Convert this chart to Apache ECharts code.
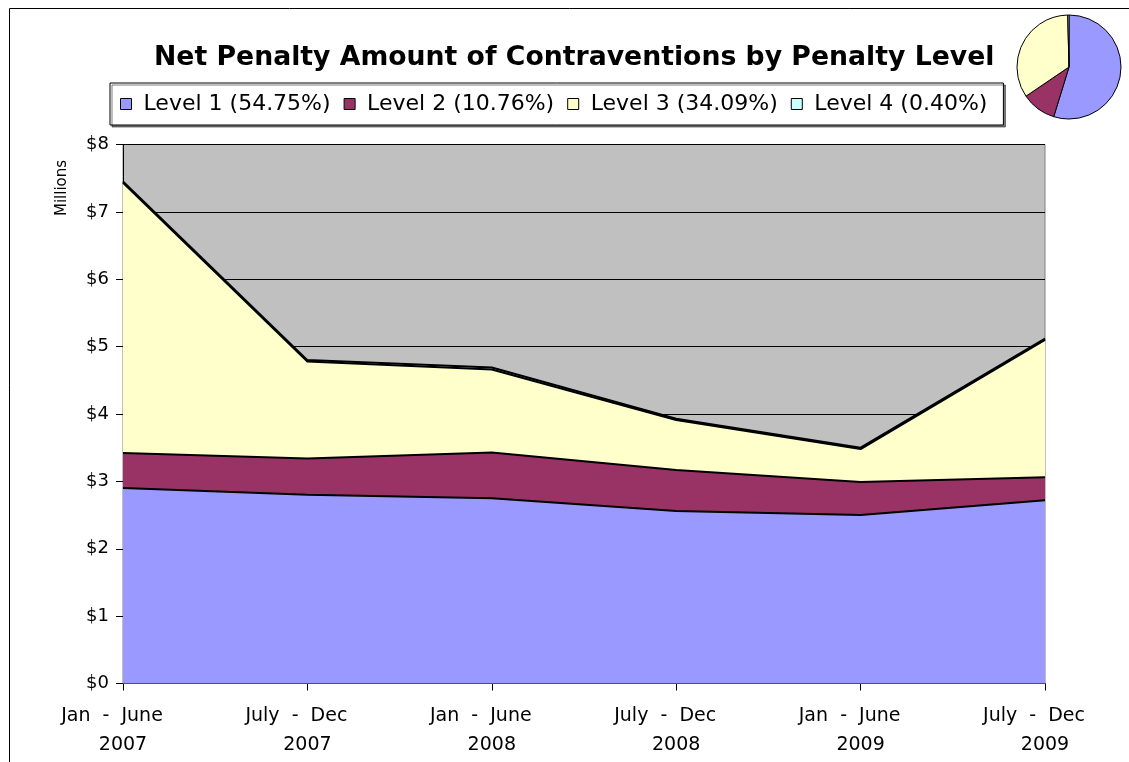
<!DOCTYPE html>
<html>
<head>
<meta charset="utf-8">
<script src="https://cdn.jsdelivr.net/npm/echarts@6/dist/echarts.min.js"></script>
<style>
  html, body { margin: 0; padding: 0; background: #fff; }
  #chart { width: 1129px; height: 762px; }
</style>
</head>
<body>
<div id="chart"></div>
<script>
// half-year periods
var periods = ['Jan  -  June\n2007', 'July  -  Dec\n2007', 'Jan  -  June\n2008', 'July  -  Dec\n2008', 'Jan  -  June\n2009', 'July  -  Dec\n2009'];
// $ millions per level (stacked)
var level1 = [2.90, 2.80, 2.75, 2.56, 2.50, 2.72];
var level2 = [0.52, 0.54, 0.68, 0.61, 0.49, 0.34];
var level3 = [4.01, 1.44, 1.23, 0.74, 0.49, 2.04];
var level4 = [0.02, 0.02, 0.03, 0.02, 0.02, 0.02];
var levelNames = ['Level 1', 'Level 2', 'Level 3', 'Level 4'];
var levelShare = [54.75, 10.76, 34.09, 0.40];
var levelColors = ['#9999FF', '#993366', '#FFFFCC', '#CCFFFF'];
var yTicks = [0, 1, 2, 3, 4, 5, 6, 7, 8];

var font = '"DejaVu Sans", Arial, sans-serif';
var chart = echarts.init(document.getElementById('chart'));

function areaSeries(i, data) {
  return {
    name: levelNames[i],
    type: 'line',
    stack: 'total',
    data: data,
    symbol: 'none',
    itemStyle: { color: levelColors[i], borderColor: '#000', borderWidth: 1 },
    lineStyle: { color: '#000', width: 2 },
    areaStyle: { color: levelColors[i], opacity: 1 },
    z: 2
  };
}

var option = {
  animation: false,
  textStyle: { fontFamily: font },
  title: {
    text: 'Net Penalty Amount of Contraventions by Penalty Level',
    left: 149,
    top: 40,
    textStyle: { fontSize: 26.7, fontWeight: 'bold', color: '#000', fontFamily: font }
  },
  legend: {
    data: levelNames,
    left: 110,
    top: 83,
    padding: [10, 16, 10, 10],
    itemGap: 13,
    itemWidth: 11,
    itemHeight: 11,
    icon: 'rect',
    itemStyle: { borderColor: '#000', borderWidth: 1 },
    backgroundColor: '#fff',
    borderColor: '#000',
    borderWidth: 1,
    shadowColor: 'rgba(0,0,0,0.5)',
    shadowOffsetX: 2,
    shadowOffsetY: 2,
    shadowBlur: 0,
    formatter: function (name) {
      return ' ' + name + ' (' + levelShare[levelNames.indexOf(name)].toFixed(2) + '%)';
    },
    textStyle: { fontSize: 22, color: '#000', fontFamily: font }
  },
  grid: {
    left: 123,
    right: 84,
    top: 144.5,
    bottom: 78.5,
    show: true,
    backgroundColor: '#C0C0C0',
    borderColor: '#808080',
    borderWidth: 1
  },
  xAxis: {
    type: 'category',
    data: periods,
    boundaryGap: false,
    axisLine: { lineStyle: { color: '#000', width: 1 } },
    axisTick: { show: true, length: 7, inside: false, lineStyle: { color: '#000' } },
    axisLabel: {
      color: '#000', fontSize: 19, lineHeight: 29, margin: 18, fontFamily: font, interval: 0,
      formatter: function (v) {
        var p = v.split('\n');
        return '{a|' + p[0] + '}\n{b|' + p[1] + '}';
      },
      rich: {
        a: { fontSize: 19, lineHeight: 29, fontFamily: font, color: '#000', padding: [0, 22, 0, 0] },
        b: { fontSize: 19, lineHeight: 29, fontFamily: font, color: '#000' }
      }
    },
    splitLine: { show: false }
  },
  yAxis: {
    type: 'value',
    min: yTicks[0],
    max: yTicks[yTicks.length - 1],
    interval: 1,
    axisLine: { show: true, lineStyle: { color: '#000', width: 1 } },
    axisTick: { show: true, length: 7, lineStyle: { color: '#000' } },
    axisLabel: { color: '#000', fontSize: 18, margin: 14, fontFamily: font, formatter: function (v) { return '$' + v; } },
    splitLine: { show: true, lineStyle: { color: '#000', width: 1 } }
  },
  series: [
    areaSeries(0, level1),
    areaSeries(1, level2),
    areaSeries(2, level3),
    areaSeries(3, level4),
    {
      type: 'pie',
      center: [1069, 67],
      radius: 52,
      startAngle: 90,
      clockwise: true,
      label: { show: false },
      labelLine: { show: false },
      silent: true,
      itemStyle: { borderColor: '#000', borderWidth: 1 },
      data: levelNames.map(function (n, i) {
        return { name: n, value: levelShare[i], itemStyle: { color: levelColors[i] } };
      })
    }
  ],
  graphic: [
    {
      type: 'rect',
      shape: { x: 9.5, y: 8.5, width: 1200, height: 800 },
      style: { fill: null, stroke: '#000', lineWidth: 1 },
      silent: true
    },
    {
      type: 'text',
      x: 62,
      y: 188,
      rotation: Math.PI / 2,
      style: { text: 'Millions', fill: '#000', font: '15px ' + font, textAlign: 'center', textVerticalAlign: 'middle' },
      silent: true
    }
  ]
};

chart.setOption(option);
</script>
</body>
</html>
